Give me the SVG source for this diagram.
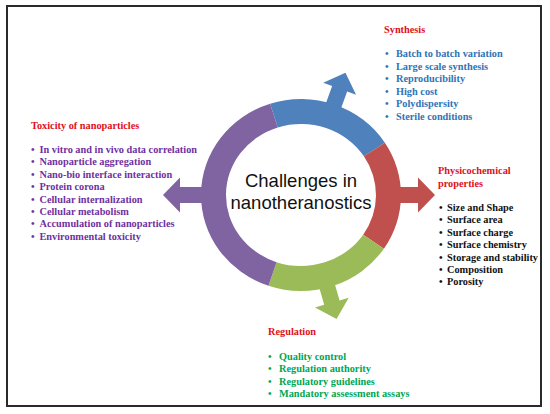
<svg xmlns="http://www.w3.org/2000/svg" width="550" height="414" viewBox="0 0 550 414">
<style>
.t{font-family:"Liberation Serif","Times New Roman",serif;font-weight:bold;font-size:10.3px}
.h{fill:#E0101A}
.syn{fill:#2E74B5}
.tox{fill:#7030A0}
.phy{fill:#111111}
.reg{fill:#00A651}
.c{font-family:"Liberation Sans",Arial,sans-serif;font-size:18.5px;fill:#111;text-anchor:middle}
</style>
<defs>
<path id="arrL" d="M85,-8 H121 V-17.5 L138,0 L121,17.5 V8 H85 Z"/>
<path id="arrR" d="M85,-8 H117 V-17.5 L134,0 L117,17.5 V8 H85 Z"/>
<path id="arrB" d="M85,-8 H113 V-17.5 L130,0 L113,17.5 V8 H85 Z"/>
<path id="arrG" d="M85,-8 H112 V-17.5 L129,0 L112,17.5 V8 H85 Z"/>
</defs>
<rect x="7" y="6" width="534" height="400" fill="#ffffff" stroke="#2a2a2a" stroke-width="2"/>
<g id="connectors">
<use href="#arrB" fill="#4F81BD" transform="translate(301,195) rotate(-70)"/>
<use href="#arrR" fill="#C0504D" transform="translate(301,195)"/>
<use href="#arrG" fill="#9BBB59" transform="translate(301,195) rotate(74)"/>
<use href="#arrL" fill="#8064A2" transform="translate(301,195) rotate(180)"/>
</g>
<g id="center">
<path fill="#4F81BD" d="M270.10,103.69 A100,96 0 0 1 384.87,142.72 L363.90,156.33 A75,71 0 0 0 277.82,127.47 Z"/>
<path fill="#C0504D" d="M384.87,142.72 A100,96 0 0 1 383.90,248.68 L363.18,234.70 A75,71 0 0 0 363.90,156.33 Z"/>
<path fill="#9BBB59" d="M383.90,248.68 A100,96 0 0 1 268.44,285.77 L276.58,262.13 A75,71 0 0 0 363.18,234.70 Z"/>
<path fill="#8064A2" d="M268.44,285.77 A100,96 0 0 1 270.10,103.69 L277.82,127.47 A75,71 0 0 0 276.58,262.13 Z"/>
<text class="c" x="301" y="187">Challenges in</text>
<text class="c" x="301" y="209">nanotheranostics</text>
</g>
<g id="synthesis" class="t">
<text class="h" x="384" y="33">Synthesis</text>
<g class="syn">
<text x="385" y="57">•</text><text x="396" y="57">Batch to batch variation</text>
<text x="385" y="69.5">•</text><text x="396" y="69.5">Large scale synthesis</text>
<text x="385" y="82">•</text><text x="396" y="82">Reproducibility</text>
<text x="385" y="94.5">•</text><text x="396" y="94.5">High cost</text>
<text x="385" y="107">•</text><text x="396" y="107">Polydispersity</text>
<text x="385" y="119.5">•</text><text x="396" y="119.5">Sterile conditions</text>
</g>
</g>
<g id="toxicity" class="t">
<text class="h" x="31" y="129">Toxicity of nanoparticles</text>
<g class="tox">
<text x="31" y="153">•</text><text x="39.5" y="153">In vitro and in vivo data correlation</text>
<text x="31" y="165.4">•</text><text x="39.5" y="165.4">Nanoparticle aggregation</text>
<text x="31" y="177.8">•</text><text x="39.5" y="177.8">Nano-bio interface interaction</text>
<text x="31" y="190.2">•</text><text x="39.5" y="190.2">Protein corona</text>
<text x="31" y="202.6">•</text><text x="39.5" y="202.6">Cellular internalization</text>
<text x="31" y="215">•</text><text x="39.5" y="215">Cellular metabolism</text>
<text x="31" y="227.4">•</text><text x="39.5" y="227.4">Accumulation of nanoparticles</text>
<text x="31" y="239.8">•</text><text x="39.5" y="239.8">Environmental toxicity</text>
</g>
</g>
<g id="physicochemical" class="t">
<text class="h" x="438" y="174">Physicochemical</text>
<text class="h" x="438" y="187">properties</text>
<g class="phy">
<text x="439" y="211">•</text><text x="447" y="211">Size and Shape</text>
<text x="439" y="223.4">•</text><text x="447" y="223.4">Surface area</text>
<text x="439" y="235.8">•</text><text x="447" y="235.8">Surface charge</text>
<text x="439" y="248.2">•</text><text x="447" y="248.2">Surface chemistry</text>
<text x="439" y="260.6">•</text><text x="447" y="260.6">Storage and stability</text>
<text x="439" y="273">•</text><text x="447" y="273">Composition</text>
<text x="439" y="285.4">•</text><text x="447" y="285.4">Porosity</text>
</g>
</g>
<g id="regulation" class="t">
<text class="h" x="268" y="335">Regulation</text>
<g class="reg">
<text x="268" y="359.5">•</text><text x="279" y="359.5">Quality control</text>
<text x="268" y="372">•</text><text x="279" y="372">Regulation authority</text>
<text x="268" y="384.5">•</text><text x="279" y="384.5">Regulatory guidelines</text>
<text x="268" y="397">•</text><text x="279" y="397">Mandatory assessment assays</text>
</g>
</g>
</svg>
